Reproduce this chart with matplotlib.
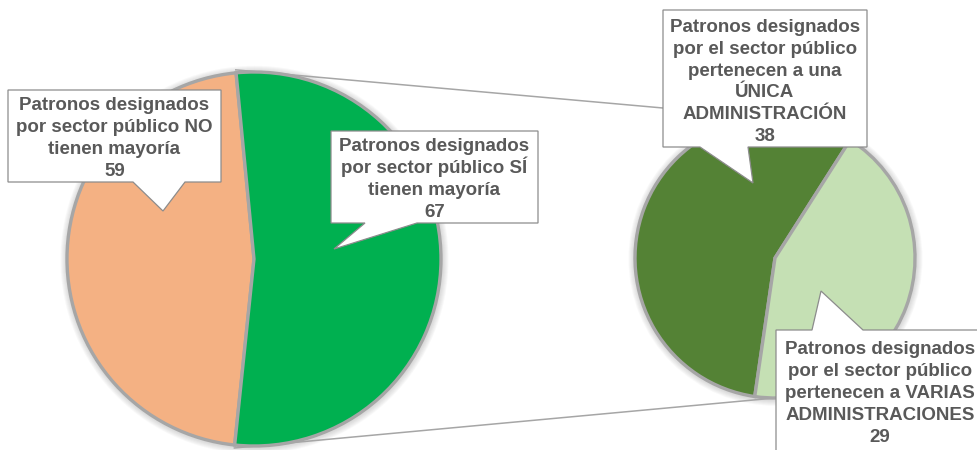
import matplotlib
matplotlib.use("Agg")
import matplotlib.pyplot as plt
from matplotlib.patches import Polygon, Circle
import numpy as np

# ---------------- data ----------------
main_labels = ["Patronos designados\npor sector público NO\ntienen mayoría",
               "Patronos designados\npor sector público SÍ\ntienen mayoría"]
main_values = [59, 67]
main_colors = ["#F4B183", "#00B050"]

sub_labels = ["Patronos designados\npor el sector público\npertenecen a una\nÚNICA\nADMINISTRACIÓN",
              "Patronos designados\npor el sector público\npertenecen a VARIAS\nADMINISTRACIONES"]
sub_values = [38, 29]
sub_colors = ["#548235", "#C5E0B4"]

# ---------------- layout ----------------
W, H = 977, 450
fig = plt.figure(figsize=(W / 100, H / 100), dpi=100)
ax = fig.add_axes([0, 0, 1, 1])

def P(x, y):
    """image pixel coords -> axes coords (y up)"""
    return (x, H - y)

edge_col = "#A6A6A6"
main_c, main_r, main_start = P(254, 259), 187, 95.5
sub_c, sub_r, sub_start = P(775, 258), 140, 57.5

# soft shadows
for (c, r) in [(main_c, main_r), (sub_c, sub_r)]:
    for k in range(6):
        ax.add_patch(Circle((c[0] + 0.5, c[1] - 0.8), r + 2 + k * 1.0,
                            facecolor="#808080", edgecolor="none",
                            alpha=0.05, zorder=1))

ax.pie(main_values, colors=main_colors, center=main_c, radius=main_r,
       startangle=main_start, counterclock=True,
       wedgeprops=dict(edgecolor=edge_col, linewidth=2.4, zorder=3))
ax.pie(sub_values, colors=sub_colors, center=sub_c, radius=sub_r,
       startangle=sub_start, counterclock=True,
       wedgeprops=dict(edgecolor=edge_col, linewidth=2.4, zorder=3))

# connector lines from the split boundaries of main pie to top/bottom of secondary pie
frac0 = main_values[0] / sum(main_values)
a_top = np.deg2rad(main_start)
a_bot = np.deg2rad(main_start + 360 * frac0)
rr = main_r + 3
p_top = (main_c[0] + rr * np.cos(a_top), main_c[1] + rr * np.sin(a_top))
p_bot = (main_c[0] + rr * np.cos(a_bot), main_c[1] + rr * np.sin(a_bot))
q_top = (sub_c[0], sub_c[1] + sub_r)
q_bot = (sub_c[0], sub_c[1] - sub_r)
for p, q in [(p_top, q_top), (p_bot, q_bot)]:
    ax.plot([p[0], q[0]], [p[1], q[1]], color="#A6A6A6", lw=1.1, zorder=2)

# ---------------- callouts ----------------
txt_col = "#595959"
box_col = "#8C8C8C"
font = dict(family=["Liberation Sans", "DejaVu Sans"], fontsize=13.5,
            fontweight="bold", color=txt_col, ha="center", va="baseline", zorder=6)
line_h = 21.8
base_off = 6.5  # baseline below line centre (px)

callouts = [
    ([(8, 90), (221, 90), (221, 182), (185, 182), (163, 211), (133, 182), (8, 182)],
     (114.5, 136.5), main_labels[0] + "\n" + str(main_values[0])),
    ([(331, 131), (538, 131), (538, 223), (417, 223), (334, 249), (365, 223), (331, 223)],
     (434.5, 177.5), main_labels[1] + "\n" + str(main_values[1])),
    ([(663, 10), (867, 10), (867, 147), (748, 147), (753, 183), (700, 147), (663, 147)],
     (765, 80), sub_labels[0] + "\n" + str(sub_values[0])),
    ([(776, 330), (812, 330), (821, 291), (863, 330), (995, 330), (995, 480), (776, 480)],
     (880, 391.5), sub_labels[1] + "\n" + str(sub_values[1])),
]
for verts, (tx, ty), text in callouts:
    ax.add_patch(Polygon([P(*v) for v in verts], closed=True, facecolor="white",
                         edgecolor=box_col, linewidth=0.9, zorder=5))
    lines = text.split("\n")
    n = len(lines)
    for i, ln in enumerate(lines):
        y = ty + (i - (n - 1) / 2) * line_h + base_off
        ax.text(*P(tx, y), ln, **font)

ax.set_xlim(0, W)
ax.set_ylim(0, H)
ax.set_aspect("auto")
ax.axis("off")
fig.savefig("out.png", dpi=100, facecolor="white")
